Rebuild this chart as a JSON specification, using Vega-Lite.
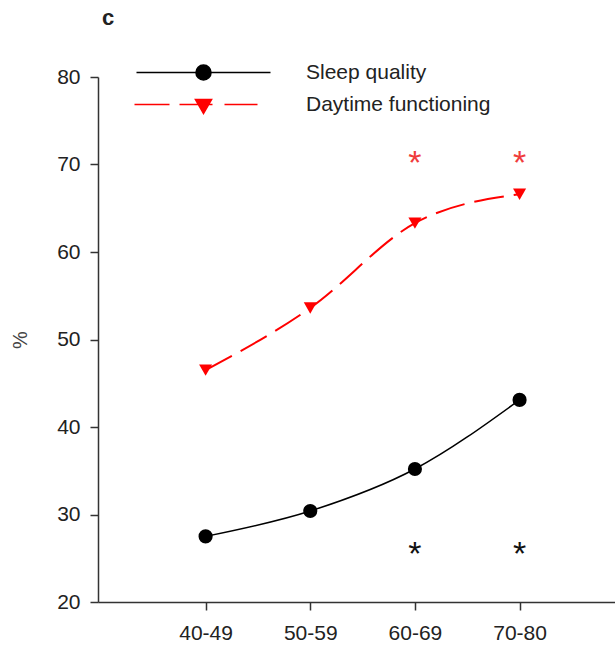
{
  "$schema": "https://vega.github.io/schema/vega-lite/v6.json",
  "width": 517,
  "height": 525,
  "autosize": "none",
  "padding": {"left": 98, "top": 77, "right": 0, "bottom": 45},
  "background": "white",
  "title": {"text": "c", "anchor": "start", "frame": "group", "fontSize": 22, "fontWeight": "bold", "font": "Liberation Sans", "color": "#222", "dx": 4, "offset": 15, "baseline": "alphabetic"},
  "config": {
    "view": {"stroke": null},
    "axis": {"labelFont": "Liberation Sans", "labelFontSize": 21, "labelColor": "#222", "domainColor": "#333", "tickColor": "#333", "domainWidth": 1.5, "tickWidth": 1.5, "tickSize": 8, "grid": false, "titleFont": "Liberation Sans"},
    "legend": {"title": null, "orient": "none", "legendX": 95, "legendY": -15, "padding": 0, "symbolSize": 4, "symbolStrokeWidth": 1.6, "labelOffset": 92, "labelFontSize": 21, "labelFont": "Liberation Sans", "labelColor": "#222", "rowPadding": 9, "labelLimit": 400}
  },
  "datasets": {
    "main": [
      {"age": "40-49", "series": "Sleep quality", "value": 27.5},
      {"age": "50-59", "series": "Sleep quality", "value": 30.4},
      {"age": "60-69", "series": "Sleep quality", "value": 35.2},
      {"age": "70-80", "series": "Sleep quality", "value": 43.1},
      {"age": "40-49", "series": "Daytime functioning", "value": 46.5},
      {"age": "50-59", "series": "Daytime functioning", "value": 53.6},
      {"age": "60-69", "series": "Daytime functioning", "value": 63.3},
      {"age": "70-80", "series": "Daytime functioning", "value": 66.6}
    ],
    "sig": [
      {"age": "60-69", "series": "Daytime functioning", "value": 70.1},
      {"age": "70-80", "series": "Daytime functioning", "value": 70.1},
      {"age": "60-69", "series": "Sleep quality", "value": 25.4},
      {"age": "70-80", "series": "Sleep quality", "value": 25.4}
    ]
  },
  "encoding": {
    "x": {"field": "age", "type": "ordinal", "sort": ["40-49", "50-59", "60-69", "70-80"], "scale": {"type": "point", "padding": 0.97, "align": 0.53}, "axis": {"title": null, "labelAngle": 0, "labelPadding": 12}},
    "y": {"field": "value", "type": "quantitative", "scale": {"domain": [20, 80], "nice": false, "zero": false}, "axis": {"values": [20, 30, 40, 50, 60, 70, 80], "title": "%", "titleFontSize": 20, "titleFontWeight": "normal", "titleColor": "#444", "titlePadding": 26, "labelPadding": 10}}
  },
  "layer": [
    {
      "data": {"name": "main"},
      "transform": [{"filter": "datum.series === 'Sleep quality'"}],
      "mark": {"type": "line", "interpolate": "monotone", "strokeWidth": 1.5},
      "encoding": {
        "color": {"field": "series", "type": "nominal", "scale": {"domain": ["Sleep quality", "Daytime functioning"], "range": ["#000000", "#ff0000"]},
          "legend": {
            "encoding": {"symbols": {
              "shape": {"value": {"expr": "datum.value === 'Sleep quality' ? 'M-67,0L67,0M-7.5,0A7.5,7.5,0,1,0,7.5,0A7.5,7.5,0,1,0,-7.5,0Z' : 'M-69,0L-34,0M-24,0L9,0M21,0L54,0M-8,-5L8,-5L0,9Z'"}},
              "fill": {"value": {"expr": "datum.value === 'Sleep quality' ? '#000000' : '#ff0000'"}},
              "stroke": {"value": {"expr": "datum.value === 'Sleep quality' ? '#000000' : '#ff0000'"}},
              "strokeWidth": {"value": 1.6},
              "size": {"value": 4},
              "opacity": {"value": 1}
            }}}}
      }
    },
    {
      "data": {"name": "main"},
      "transform": [{"filter": "datum.series === 'Daytime functioning'"}],
      "mark": {"type": "line", "interpolate": "monotone", "strokeWidth": 2, "strokeDash": [30, 10]},
      "encoding": {
        "color": {"field": "series", "type": "nominal",
          "legend": {
            "encoding": {"symbols": {
              "shape": {"value": {"expr": "datum.value === 'Sleep quality' ? 'M-67,0L67,0M-7.5,0A7.5,7.5,0,1,0,7.5,0A7.5,7.5,0,1,0,-7.5,0Z' : 'M-69,0L-34,0M-24,0L9,0M21,0L54,0M-8,-5L8,-5L0,9Z'"}},
              "fill": {"value": {"expr": "datum.value === 'Sleep quality' ? '#000000' : '#ff0000'"}},
              "stroke": {"value": {"expr": "datum.value === 'Sleep quality' ? '#000000' : '#ff0000'"}},
              "strokeWidth": {"value": 1.6},
              "size": {"value": 4},
              "opacity": {"value": 1}
            }}}}
      }
    },
    {
      "data": {"name": "main"},
      "transform": [{"filter": "datum.series === 'Sleep quality'"}],
      "mark": {"type": "point", "filled": true, "opacity": 1, "shape": "circle", "size": 200, "color": "#000000"}
    },
    {
      "data": {"name": "main"},
      "transform": [{"filter": "datum.series === 'Daytime functioning'"}],
      "mark": {"type": "point", "filled": true, "opacity": 1, "shape": "triangle-down", "size": 170, "color": "#ff0000"}
    },
    {
      "data": {"name": "sig"},
      "transform": [{"filter": "datum.series === 'Daytime functioning'"}],
      "mark": {"type": "text", "text": "*", "fontSize": 34, "font": "Liberation Sans", "color": "#f03c3c", "baseline": "middle"}
    },
    {
      "data": {"name": "sig"},
      "transform": [{"filter": "datum.series === 'Sleep quality'"}],
      "mark": {"type": "text", "text": "*", "fontSize": 34, "font": "Liberation Sans", "color": "#111", "baseline": "middle"}
    }
  ]
}
